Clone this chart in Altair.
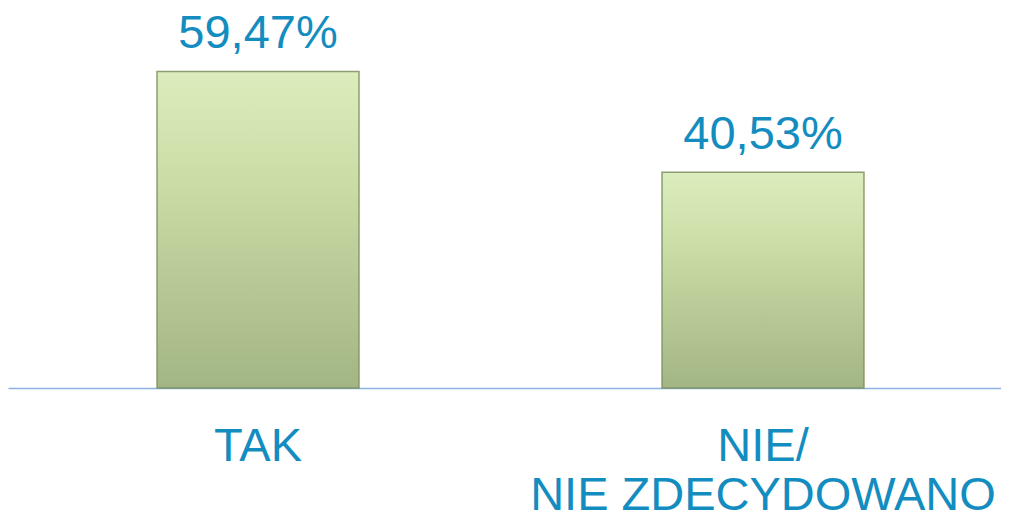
import altair as alt
import pandas as pd

categories = ["TAK", "NIE/\nNIE ZDECYDOWANO"]
values = [59.47, 40.53]
value_labels = ["59,47%", "40,53%"]

df = pd.DataFrame({"cat": categories, "val": values, "lab": value_labels})

TEXT_COLOR = "#138dc0"
FONT = "Liberation Sans"

x_enc = alt.X(
    "cat:N",
    sort=categories,
    scale=alt.Scale(paddingInner=0.6, paddingOuter=0.2832, align=0.521),
    axis=alt.Axis(labels=False, ticks=False, title=None,
                  domainColor="#8db3e2", domainWidth=1.6),
)
y_enc = alt.Y("val:Q", scale=alt.Scale(domain=[0, 71.4], nice=False, zero=True), axis=None)

gradient = alt.Gradient(
    gradient="linear",
    stops=[
        alt.GradientStop(color="#dcedbd", offset=0),
        alt.GradientStop(color="#cadda6", offset=0.35),
        alt.GradientStop(color="#a2b584", offset=1),
    ],
    x1=1, x2=1, y1=0, y2=1,
)

base = alt.Chart(df)

bars = base.mark_bar(
    fill=gradient,
    stroke="#7d8f5e",
    strokeWidth=1.5,
    strokeOpacity=0.85,
).encode(x=x_enc, y=y_enc)

vals = base.mark_text(
    dy=-23, baseline="alphabetic", align="center",
    fontSize=47, font=FONT, color=TEXT_COLOR,
).encode(x=x_enc, y=y_enc, text="lab:N")

cats = base.mark_text(
    baseline="alphabetic", align="center",
    fontSize=47, font=FONT, color=TEXT_COLOR,
    lineBreak="\n", lineHeight=49,
).encode(x=x_enc, y=alt.value(453), text="cat:N")

chart = alt.layer(bars, vals, cats).properties(
    width=993,
    height=380,
    autosize=alt.AutoSizeParams(type="none"),
    padding={"left": 0, "top": 0, "right": 0, "bottom": 124},
    background="white",
).configure_view(stroke=None)

chart.save("out.html", embed_options={"renderer": "svg", "actions": False})
